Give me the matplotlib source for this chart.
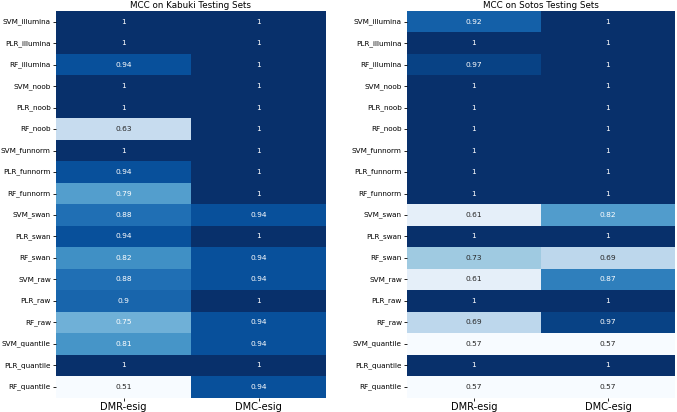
import matplotlib
matplotlib.use("Agg")
import matplotlib.pyplot as plt
import seaborn as sns
import pandas as pd

rows = ["SVM_illumina", "PLR_illumina", "RF_illumina", "SVM_noob", "PLR_noob", "RF_noob",
        "SVM_funnorm", "PLR_funnorm", "RF_funnorm", "SVM_swan", "PLR_swan", "RF_swan",
        "SVM_raw", "PLR_raw", "RF_raw", "SVM_quantile", "PLR_quantile", "RF_quantile"]
cols = ["DMR-esig", "DMC-esig"]

kabuki_dmr = [1, 1, 0.94, 1, 1, 0.63, 1, 0.94, 0.79, 0.88, 0.94, 0.82, 0.88, 0.9, 0.75, 0.81, 1, 0.51]
kabuki_dmc = [1, 1, 1, 1, 1, 1, 1, 1, 1, 0.94, 1, 0.94, 0.94, 1, 0.94, 0.94, 1, 0.94]
sotos_dmr = [0.92, 1, 0.97, 1, 1, 1, 1, 1, 1, 0.61, 1, 0.73, 0.61, 1, 0.69, 0.57, 1, 0.57]
sotos_dmc = [1, 1, 1, 1, 1, 1, 1, 1, 1, 0.82, 1, 0.69, 0.87, 1, 0.97, 0.57, 1, 0.57]

titles = ["MCC on Kabuki Testing Sets", "MCC on Sotos Testing Sets"]

df_k = pd.DataFrame({cols[0]: kabuki_dmr, cols[1]: kabuki_dmc}, index=rows)
df_s = pd.DataFrame({cols[0]: sotos_dmr, cols[1]: sotos_dmc}, index=rows)

fig = plt.figure(figsize=(6.77, 4.12), dpi=100)
ax1 = fig.add_axes([56 / 677, 14.5 / 412, 270 / 677, 386.5 / 412])
ax2 = fig.add_axes([407 / 677, 14.5 / 412, 268 / 677, 386.5 / 412])

for ax, df, title in [(ax1, df_k, titles[0]), (ax2, df_s, titles[1])]:
    sns.heatmap(df, ax=ax, cmap="Blues", annot=True, fmt=".2g", cbar=False,
                annot_kws={"fontsize": 5.4})
    ax.set_title(title, fontsize=6.3, pad=2.5)
    ax.tick_params(axis="y", labelsize=5.2, rotation=0, length=2.2, width=0.6, pad=1.5)
    ax.tick_params(axis="x", labelsize=7.1, length=2.2, width=0.6, pad=1.2)

fig.savefig("out.png", dpi=100)
